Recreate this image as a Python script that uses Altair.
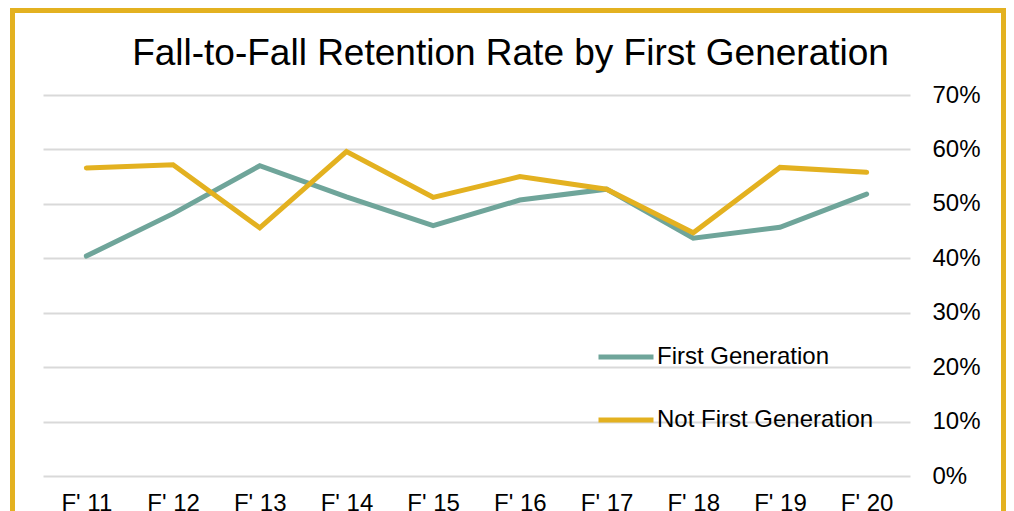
import altair as alt
import pandas as pd

terms = ["F' 11", "F' 12", "F' 13", "F' 14", "F' 15", "F' 16", "F' 17", "F' 18", "F' 19", "F' 20"]
first_gen = [0.404, 0.482, 0.570, 0.513, 0.460, 0.507, 0.527, 0.437, 0.457, 0.518]
not_first_gen = [0.566, 0.572, 0.456, 0.596, 0.512, 0.550, 0.527, 0.447, 0.567, 0.558]
series_names = ["First Generation", "Not First Generation"]
series_colors = ["#6FA59A", "#E3B120"]
y_ticks = [0, 0.1, 0.2, 0.3, 0.4, 0.5, 0.6, 0.7]

rows = []
for t, a, b in zip(terms, first_gen, not_first_gen):
    rows.append({"term": t, "series": series_names[0], "rate": a})
    rows.append({"term": t, "series": series_names[1], "rate": b})
df = pd.DataFrame(rows)

FONT = "Liberation Sans"

lines = alt.Chart(df).mark_line(strokeWidth=5, strokeCap="round", strokeJoin="miter").encode(
    x=alt.X("term:O", sort=terms, scale=alt.Scale(padding=0.5),
            axis=alt.Axis(title=None, labelAngle=0, domain=False, ticks=False, grid=False,
                          labelFontSize=24, labelColor="#000000", labelFont=FONT,
                          labelPadding=15)),
    y=alt.Y("rate:Q", scale=alt.Scale(domain=[0, 0.7], nice=False),
            axis=alt.Axis(title=None, orient="right", values=y_ticks, format=".0%",
                          domain=False, ticks=False, grid=True, gridColor="#D9D9D9",
                          gridWidth=2, labelFontSize=24, labelColor="#000000",
                          labelFont=FONT, labelPadding=22, labelAlign="left")),
    color=alt.Color("series:N", scale=alt.Scale(domain=series_names, range=series_colors),
                    legend=alt.Legend(title=None, orient="none", legendX=553, legendY=232,
                                      symbolType="stroke", symbolSize=3025,
                                      symbolStrokeWidth=5, labelFontSize=24,
                                      labelFont=FONT, labelColor="#000000",
                                      labelOffset=1, rowPadding=21, padding=0,
                                      labelLimit=400)),
)

border = alt.Chart(pd.DataFrame({"k": [0]})).mark_rect(
    fill=None, stroke="#E3B120", strokeWidth=5, clip=False
).encode(
    x=alt.value(-30.5), x2=alt.value(960.5), y=alt.value(-84.5), y2=alt.value(440)
)

chart = alt.layer(border, lines).properties(
    width=867, height=381,
    background="#FFFFFF",
    title=alt.TitleParams("Fall-to-Fall Retention Rate by First Generation",
                          fontSize=37, font=FONT, fontWeight="normal", color="#000000",
                          anchor="middle", baseline="alphabetic", offset=-94, dx=34),
    padding={"left": 35, "top": 87, "right": 96, "bottom": 60},
    autosize=alt.AutoSizeParams(type="none"),
).configure_view(stroke="transparent", strokeWidth=0)

chart.save("out.html", embed_options={"renderer": "svg", "actions": False})
